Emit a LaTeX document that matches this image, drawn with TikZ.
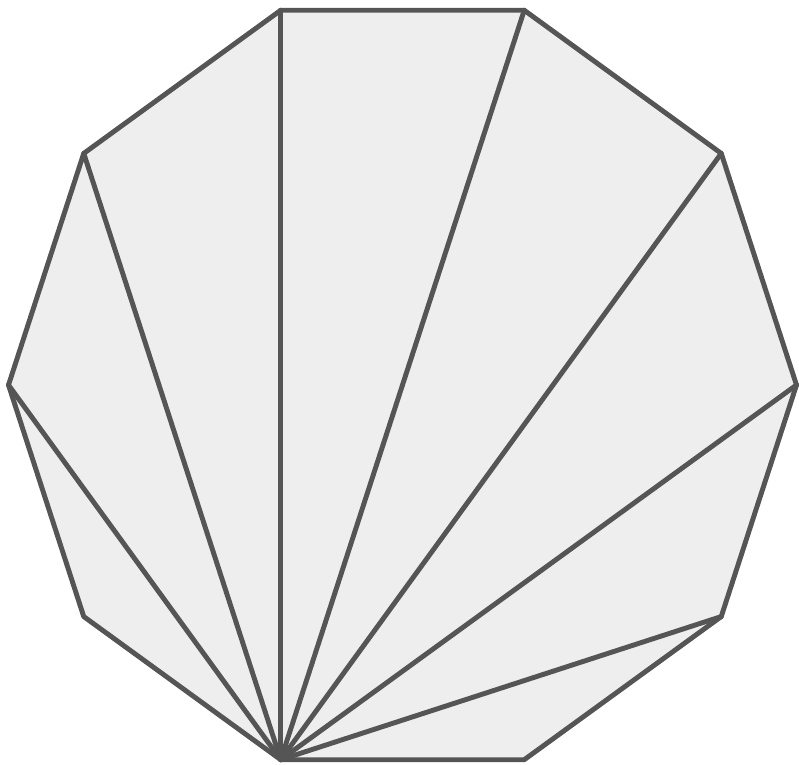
\documentclass[tikz,border=0pt]{standalone}
\usetikzlibrary{calc}
\definecolor{edgegray}{HTML}{555555}
\definecolor{facegray}{HTML}{EEEEEE}

\begin{document}
\begin{tikzpicture}[
    edge/.style={draw=edgegray, line width=2.8pt, line join=round, line cap=round}]
    \useasboundingbox (0,0) rectangle (15.98,15.30);
    \coordinate (centre) at (8.05,7.6);
    % decagon corners
    \foreach \i in {0,...,9}
        \coordinate (v\i) at ($(centre)+(\i*36:7.88)$);
    \path[edge, fill=facegray] (v0) \foreach \i in {1,...,9}{-- (v\i)} -- cycle;
    % fan of diagonals from the lower left corner
    \foreach \i in {0,1,2,3,4,5,9}
        \draw[edge] (v7) -- (v\i);
\end{tikzpicture}
\end{document}
